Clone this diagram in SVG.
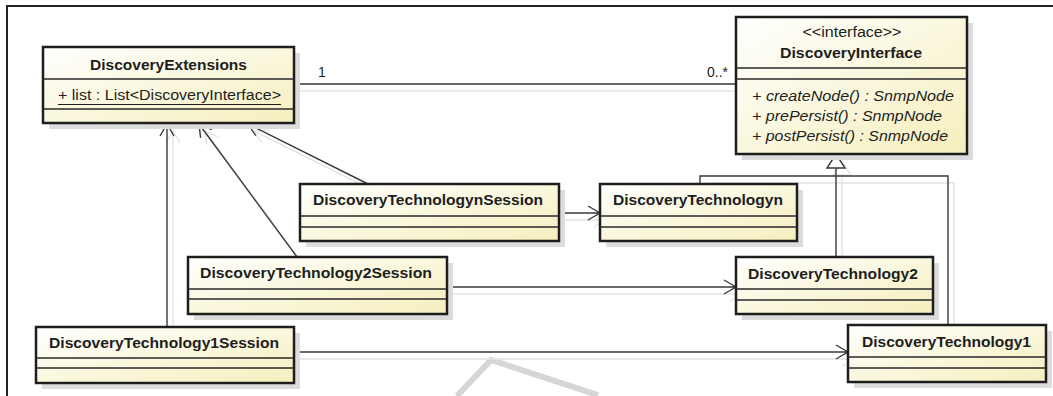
<svg xmlns="http://www.w3.org/2000/svg" xmlns:xlink="http://www.w3.org/1999/xlink" width="1053" height="396" viewBox="0 0 1053 396">
<defs>
<linearGradient id="fillG" x1="0" y1="0" x2="1" y2="1">
<stop offset="0" stop-color="#ffffff"/>
<stop offset="1" stop-color="#f5efbd"/>
</linearGradient>
<style>
.box{fill:url(#fillG);stroke:#1e1e1e;stroke-width:2.5}
.shadow{fill:#dcdcdc}
.div{stroke:#2a2a2a;stroke-width:1.3;fill:none}
.name{font-family:"Liberation Sans",Arial,sans-serif;font-weight:bold;font-size:15px;fill:#1e1e1e;text-anchor:middle}
.txt{font-family:"Liberation Sans",Arial,sans-serif;font-size:14px;fill:#1e1e1e}
.it{font-family:"Liberation Sans",Arial,sans-serif;font-size:14px;font-style:italic;fill:#1e1e1e}
.ln{fill:none;stroke-width:1.4}
</style>
</defs>
<rect width="1053" height="396" fill="#ffffff"/>
<path d="M7,396 V6 H1053" fill="none" stroke="#222" stroke-width="2"/>
<polyline points="457,396 491,360 598,395" fill="none" stroke="#d6d6d6" stroke-width="6" stroke-linejoin="miter"/>

<g id="connector-shadows">
<use xlink:href="#conn-paths" transform="translate(6,7)" stroke="#e4e4e4"/>
</g>

<g id="connectors" stroke="#3a3a3a">
<g id="conn-paths" class="ln">
<path d="M294,84 H736"/>
<path d="M368,184 L248,124 M255.7,135.7 L248,124 L262,123.2"/>
<path d="M297,257 L199,124 M200.6,137.9 L199,124 L211.8,129.6"/>
<path d="M167,327 V124 M160,136 L167,124 L174,136"/>
<path d="M559,213 H600 M588,206 L600,213 L588,220"/>
<path d="M447,287 H736 M724,280 L736,287 L724,294"/>
<path d="M294,352 H848 M836,345 L848,352 L836,359"/>
<path d="M836,168 V257"/>
<path d="M700,184 V176 H948 V325"/>
<path d="M836,154 L827,168 H845 Z" fill="#ffffff"/>
</g>
<text class="txt" x="318" y="77" stroke="none">1</text>
<text class="txt" x="707" y="77" stroke="none">0..*</text>
</g>

<g id="DiscoveryExtensions">
<rect class="shadow" x="49" y="53" width="251" height="76"/>
<rect class="box" x="43" y="47" width="251" height="76"/>
<path class="div" d="M43,79 H294 M43,109 H294"/>
<text class="name" x="168.5" y="70" textLength="157" lengthAdjust="spacingAndGlyphs">DiscoveryExtensions</text>
<text class="txt" x="58" y="100" textLength="223" lengthAdjust="spacingAndGlyphs">+ list : List&lt;DiscoveryInterface&gt;</text>
<path d="M58,104.5 H281" stroke="#1e1e1e" stroke-width="1"/>
</g>

<g id="DiscoveryInterface">
<rect class="shadow" x="742" y="23" width="231" height="137"/>
<rect class="box" x="736" y="17" width="231" height="137"/>
<path class="div" d="M736,68 H967 M736,79 H967"/>
<text class="txt" x="852" y="37" text-anchor="middle" font-size="13" textLength="99" lengthAdjust="spacingAndGlyphs">&lt;&lt;interface&gt;&gt;</text>
<text class="name" x="851" y="58" textLength="142" lengthAdjust="spacingAndGlyphs">DiscoveryInterface</text>
<text class="it" x="752" y="101" textLength="202" lengthAdjust="spacingAndGlyphs">+ createNode() : SnmpNode</text>
<text class="it" x="752" y="121" textLength="190" lengthAdjust="spacingAndGlyphs">+ prePersist() : SnmpNode</text>
<text class="it" x="752" y="141" textLength="196" lengthAdjust="spacingAndGlyphs">+ postPersist() : SnmpNode</text>
</g>

<g id="DiscoveryTechnologynSession">
<rect class="shadow" x="306" y="190" width="259" height="57"/>
<rect class="box" x="300" y="184" width="259" height="57"/>
<path class="div" d="M300,216 H559 M300,227 H559"/>
<text class="name" x="428" y="205" textLength="230" lengthAdjust="spacingAndGlyphs">DiscoveryTechnologynSession</text>
</g>

<g id="DiscoveryTechnologyn">
<rect class="shadow" x="606" y="190" width="197" height="57"/>
<rect class="box" x="600" y="184" width="197" height="57"/>
<path class="div" d="M600,216 H797 M600,227 H797"/>
<text class="name" x="698" y="205" textLength="170" lengthAdjust="spacingAndGlyphs">DiscoveryTechnologyn</text>
</g>

<g id="DiscoveryTechnology2Session">
<rect class="shadow" x="194" y="263" width="259" height="57"/>
<rect class="box" x="188" y="257" width="259" height="57"/>
<path class="div" d="M188,289 H447 M188,299 H447"/>
<text class="name" x="316" y="278" textLength="232" lengthAdjust="spacingAndGlyphs">DiscoveryTechnology2Session</text>
</g>

<g id="DiscoveryTechnology2">
<rect class="shadow" x="742" y="263" width="197" height="57"/>
<rect class="box" x="736" y="257" width="197" height="57"/>
<path class="div" d="M736,289 H933 M736,300 H933"/>
<text class="name" x="833" y="279" textLength="170" lengthAdjust="spacingAndGlyphs">DiscoveryTechnology2</text>
</g>

<g id="DiscoveryTechnology1Session">
<rect class="shadow" x="42" y="333" width="258" height="56"/>
<rect class="box" x="36" y="327" width="258" height="56"/>
<path class="div" d="M36,358 H294 M36,368 H294"/>
<text class="name" x="164" y="348" textLength="230" lengthAdjust="spacingAndGlyphs">DiscoveryTechnology1Session</text>
</g>

<g id="DiscoveryTechnology1">
<rect class="shadow" x="854" y="331" width="198" height="57"/>
<rect class="box" x="848" y="325" width="198" height="57"/>
<path class="div" d="M848,357 H1046 M848,368 H1046"/>
<text class="name" x="946.5" y="347" textLength="169" lengthAdjust="spacingAndGlyphs">DiscoveryTechnology1</text>
</g>
</svg>
